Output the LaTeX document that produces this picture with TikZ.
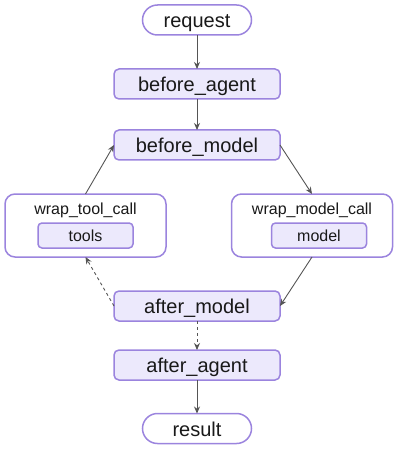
\documentclass[tikz,border=0pt]{standalone}
\usepackage{fontspec}
\setmainfont{Liberation Sans}
\usetikzlibrary{arrows.meta}
\definecolor{pborder}{HTML}{9B84DE}
\definecolor{pfill}{HTML}{ECE9FC}
\definecolor{edgec}{HTML}{555555}
\begin{document}
\begin{tikzpicture}[x=1pt,y=-1pt,
  every node/.style={inner sep=0pt,outer sep=0pt,text=black!90},
  term/.style={draw=pborder,line width=1.5pt,fill=white,rounded corners=15pt,minimum width=109pt,minimum height=30pt,font=\fontsize{20}{22}\selectfont,text height=15pt,text depth=0pt},
  hook/.style={draw=pborder,line width=1.5pt,fill=pfill,rounded corners=5pt,minimum width=166pt,minimum height=30pt,font=\fontsize{20}{22}\selectfont,text height=15pt,text depth=0pt},
  wrapbox/.style={draw=pborder,line width=1.5pt,fill=white,rounded corners=10pt,minimum width=161pt,minimum height=63pt},
  inner/.style={draw=pborder,line width=1.5pt,fill=pfill,rounded corners=4pt,minimum width=95pt,minimum height=25pt,font=\fontsize{16}{18}\selectfont,text height=12pt,text depth=0pt},
  lbl/.style={font=\fontsize{16}{18}\selectfont},
  conn/.style={draw=edgec,line width=0.9pt,-{Stealth[length=7pt,width=6pt]}},
  dconn/.style={conn,dashed}]
\useasboundingbox (0,0) rectangle (400,454);
\node[term] (req) at (197,20) {request};
\node[hook] (ba) at (197,84) {before\_agent};
\node[hook] (bm) at (197,145) {before\_model};
\node[wrapbox] (wtc) at (85.5,225.5) {};
\node[lbl] (wtcl) at (85.5,210) {wrap\_tool\_call};
\node[inner] (tools) at (85.5,235.5) {tools};
\node[wrapbox] (wmc) at (312,225.5) {};
\node[lbl] (wmcl) at (312,210) {wrap\_model\_call};
\node[inner] (model) at (319,235.5) {model};
\node[hook] (am) at (197,306) {after\_model};
\node[hook] (aa) at (197,365) {after\_agent};
\node[term] (res) at (197,428.5) {result};
\draw[conn] (req) -- (ba);
\draw[conn] (ba) -- (bm);
\draw[conn] (bm.east) -- (wmc.north);
\draw[conn] (wmc.south) -- (am.east);
\draw[dconn] (am.west) -- (wtc.south);
\draw[conn] (wtc.north) -- (bm.west);
\draw[dconn] (am) -- (aa);
\draw[conn] (aa) -- (res);
\end{tikzpicture}
\end{document}
